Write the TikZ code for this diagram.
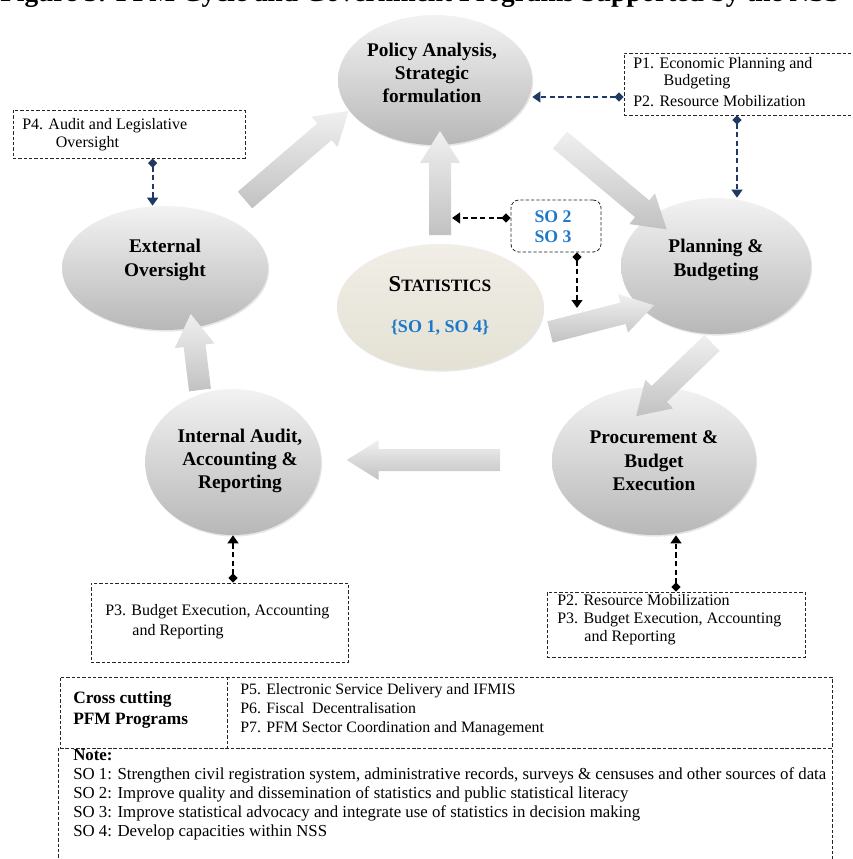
\documentclass[tikz,border=0pt]{standalone}
\usepackage{fontspec}
\setmainfont{Liberation Serif}
\usetikzlibrary{shapes.geometric,arrows.meta,shadows,calc}
\definecolor{navy}{RGB}{31,56,100}
\definecolor{soblue}{RGB}{30,120,200}
\definecolor{beigetop}{RGB}{240,238,230}
\definecolor{beigebot}{RGB}{228,225,212}
\newcommand\blockarrow[2]{%
 \path[barrow] let \p1=(#1), \p2=(#2), \n1={atan2(\y2-\y1,\x2-\x1)}, \n2={veclen(\x2-\x1,\y2-\y1)/0.75} in
 {[shift={(\p1)}, rotate=\n1] (0,-11) -- ({\n2-24},-11) -- ({\n2-24},-20) -- (\n2,0) -- ({\n2-24},20) -- ({\n2-24},11) -- (0,11) -- cycle};
}
\tikzset{
 cyc/.style={ellipse, draw=none, top color=black!5, bottom color=black!28,
   drop shadow={opacity=0.2, shadow xshift=0.8pt, shadow yshift=-1.2pt}},
 statell/.style={ellipse, draw=none, top color=beigetop, bottom color=beigebot,
   drop shadow={opacity=0.2, shadow xshift=0.8pt, shadow yshift=-1.2pt}},
 ctext/.style={font=\fontsize{14.5}{17.5}\selectfont\bfseries, align=center, inner sep=0},
 barrow/.style={top color=black!6, bottom color=black!24, draw=none},
 dbox/.style={draw=black!85, dash pattern=on 2.5pt off 1.5pt, line width=0.6pt, inner sep=0},
 btext/.style={font=\fontsize{12}{13.5}\selectfont, align=left, inner sep=0, anchor=north west},
 navyline/.style={draw=navy, line width=1.6pt, dash pattern=on 4pt off 2.5pt,
   {Diamond[length=7pt,width=7pt]}-{Triangle[length=6pt,width=8pt]}},
 blkline/.style={draw=black, line width=1.6pt, dash pattern=on 4pt off 2.5pt,
   {Diamond[length=7pt,width=7pt]}-{Triangle[length=6pt,width=8pt]}},
}
\begin{document}
\begin{tikzpicture}[x=0.75pt,y=-0.75pt]
\useasboundingbox (0,0) rectangle (852,859);
% title, cut by the top edge
\begin{scope}
\clip (0,0) rectangle (852,11);
\node[anchor=base west, inner sep=0, font=\fontsize{20.5}{20.5}\selectfont\bfseries] (title) at (0,2) {Figure 3: PFM Cycle and Government Programs Supported by the NSS};
\end{scope}

% ellipses
\node[cyc, minimum width=145.5pt, minimum height=97.5pt] (pol) at (435,80) {};
\node[cyc, minimum width=142.5pt, minimum height=102pt] (plan) at (716,266) {};
\node[cyc, minimum width=153pt, minimum height=111pt] (proc) at (654,461) {};
\node[cyc, minimum width=132pt, minimum height=109.5pt] (aud) at (233,462) {};
\node[cyc, minimum width=154.5pt, minimum height=93pt] (ext) at (165,268) {};
\node[statell, minimum width=154.5pt, minimum height=94.5pt] (stat) at (440,307) {};

\node[ctext] (polt) at (432,73) {Policy Analysis,\\Strategic\\formulation};
\node[ctext] (plant) at (716,260) {Planning \&\\Budgeting};
\node[ctext] (proct) at (654,461) {Procurement \&\\Budget\\Execution};
\node[ctext] (audt) at (240,461) {Internal Audit,\\Accounting \&\\Reporting};
\node[ctext] (extt) at (165,260) {External\\Oversight};
\node[inner sep=0, font=\bfseries] (statt) at (440,284) {{\fontsize{17}{17}\selectfont S}{\fontsize{13}{13}\selectfont TATISTICS}};
\node[inner sep=0, font=\fontsize{13.5}{14}\selectfont\bfseries, text=soblue] (stats) at (440,328) {\{SO 1, SO 4\}};

% block arrows
\coordinate (a1t) at (200,390); \coordinate (a1h) at (193,333);
\coordinate (a2t) at (245,200); \coordinate (a2h) at (323,133);
\coordinate (a3t) at (560,140); \coordinate (a3h) at (640,207);
\coordinate (a4t) at (440,235); \coordinate (a4h) at (440,157);
\coordinate (a5t) at (550,332); \coordinate (a5h) at (628,312);
\coordinate (a6t) at (712,343); \coordinate (a6h) at (655,398);
\coordinate (a7t) at (500,460); \coordinate (a7h) at (385,460);
\blockarrow{a1t}{a1h}
\blockarrow{a2t}{a2h}
\blockarrow{a3t}{a3h}
\blockarrow{a4t}{a4h}
\blockarrow{a5t}{a5h}
\blockarrow{a6t}{a6h}
\blockarrow{a7t}{a7h}

% boxes
\node[dbox, minimum width=174pt, minimum height=46.5pt] (p12) at (740,84) {};
\node[btext] (p12t) at (633,57) {P1. Economic Planning and\\[-0.75pt]\hspace*{1.9em}Budgeting\\[2pt]P2. Resource Mobilization};
\node[dbox, minimum width=174pt, minimum height=36pt] (p4) at (129,134) {};
\node[btext] (p4t) at (22,118) {P4. Audit and Legislative\\\hspace*{2.1em}Oversight};
\node[dbox, rounded corners=6pt, minimum width=67.5pt, minimum height=39pt] (so) at (556,226) {};
\node[inner sep=0, align=center, font=\fontsize{13.3}{15}\selectfont\bfseries, text=soblue] (sot) at (553,227) {SO 2\\SO 3};
\node[dbox, minimum width=192.75pt, minimum height=59.25pt] (p3l) at (219.5,622.5) {};
\node[btext, font=\fontsize{12}{15}\selectfont] (p3lt) at (105,604) {P3. Budget Execution, Accounting\\\hspace*{1.7em}and Reporting};
\node[dbox, minimum width=193.5pt, minimum height=48.75pt] (p23) at (676,624.5) {};
\node[btext] (p23t) at (557,594) {P2. Resource Mobilization\\P3. Budget Execution, Accounting\\\hspace*{1.7em}and Reporting};

% connectors
\draw[navyline] (p12.west |- 0,97) -- (pol.east |- 0,97);
\draw[navyline] ([xshift=-2.25pt]p12.south) -- ([xshift=-2.25pt]p12.south |- plan.north);
\draw[navyline] ([xshift=105pt]p4.south west) -- ([xshift=105pt]p4.south west |- ext.north);
\coordinate (sotip) at (452,218);
\draw[blkline] (so.west |- sotip) -- (sotip);
\coordinate (sotip2) at (577,308);
\draw[blkline] (so.south -| sotip2) -- (sotip2);
\draw[blkline] (aud.south |- p3l.north) -- (aud.south);
\draw[blkline] (p23.north) -- (p23.north |- proc.south);

% table
\node[dbox, minimum width=579pt, minimum height=53.25pt] (cc) at (446,712.5) {};
\draw[dbox] ([xshift=126pt]cc.north west) -- ([xshift=126pt]cc.south west);
\node[btext, font=\fontsize{13}{15.75}\selectfont\bfseries] (cct) at (73,691) {Cross cutting\\PFM Programs};
\node[btext, font=\fontsize{11.9}{14.25}\selectfont] (ccp) at (240,683) {P5. Electronic Service Delivery and IFMIS\\P6. Fiscal\ \ Decentralisation\\P7. PFM Sector Coordination and Management};
\node[dbox, minimum width=580.5pt, minimum height=95.25pt] (note) at (445,811.5) {};
\node[btext, font=\fontsize{12.6}{14.3}\selectfont] (notet) at (73,749) {\textbf{Note:}\\SO 1: Strengthen civil registration system, administrative records, surveys \& censuses and other sources of data\\SO 2: Improve quality and dissemination of statistics and public statistical literacy\\SO 3: Improve statistical advocacy and integrate use of statistics in decision making\\SO 4: Develop capacities within NSS};
\end{tikzpicture}
\end{document}
